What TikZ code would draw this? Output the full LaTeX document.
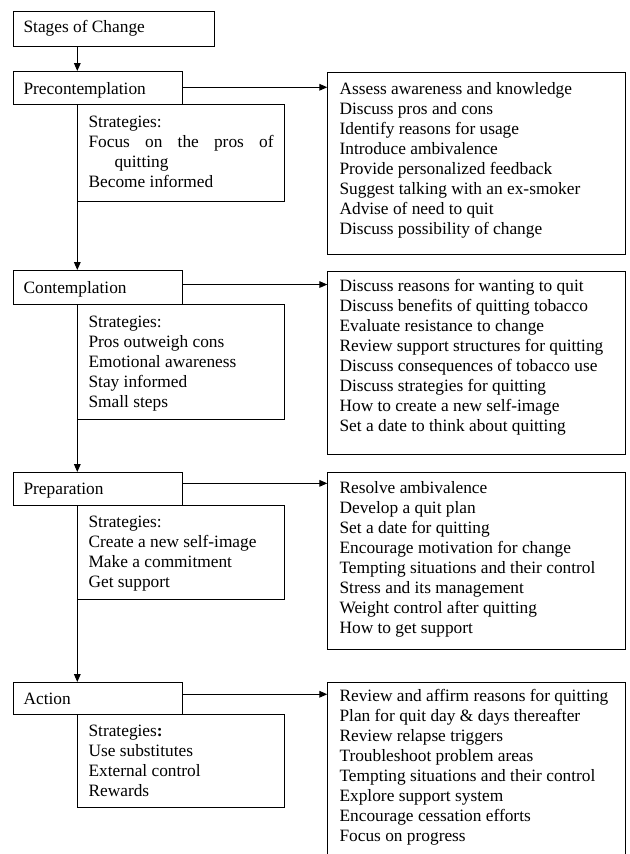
\documentclass[tikz,border=0pt]{standalone}
\usepackage{fontspec}
\setmainfont{Liberation Serif}
\usetikzlibrary{arrows.meta,calc}
\tikzset{
  box/.style={draw, line width=0.8pt, inner sep=0pt, anchor=north west, rectangle},
  stagebox/.style={box, minimum width=127.2pt},
  stratbox/.style={box, minimum width=155.25pt},
  listbox/.style={box, minimum width=222.9pt},
  txt/.style={anchor=north west, inner sep=0pt, align=left, font=\fontsize{13}{15}\selectfont},
  arr/.style={line width=0.8pt, -{Triangle[length=6pt,width=5pt]}},
}
\begin{document}
\begin{tikzpicture}[x=0.75pt,y=-0.75pt]
\useasboundingbox (0,0) rectangle (629,854);
\fill[white] (0,0) rectangle (629,854);
\clip (0,0) rectangle (629,854);

% title
\node[box, minimum width=151pt, minimum height=26.25pt] (title) at (12.7,10.7) {};
\node[txt] (titlet) at (23.3,18.5) {\strut Stages of Change};

% stage 1
\node[stagebox, minimum height=24.5pt] (pre) at (12.7,71) {};
\node[txt] (pret) at (23.3,80) {\strut Precontemplation};
\node[stratbox, minimum height=73pt] (s1) at (77.3,103.7) {};
\node[txt] (s1t) at (88.3,113.7) {\strut Strategies:\\\makebox[138.75pt][s]{Focus on the pros of}\\\hspace*{19.5pt}quitting\\Become informed};
\node[listbox, minimum height=136.5pt] (r1) at (327.3,72) {};
\node[txt] (r1t) at (339.3,80.5) {\strut Assess awareness and knowledge\\Discuss pros and cons\\Identify reasons for usage\\Introduce ambivalence\\Provide personalized feedback\\Suggest talking with an ex-smoker\\Advise of need to quit\\Discuss possibility of change};

% stage 2
\node[stagebox, minimum height=25.5pt] (cont) at (12.7,270) {};
\node[txt] (contt) at (23.3,279.3) {\strut Contemplation};
\node[stratbox, minimum height=86.25pt] (s2) at (77.3,304) {};
\node[txt] (s2t) at (88.3,313.7) {\strut Strategies:\\Pros outweigh cons\\Emotional awareness\\Stay informed\\Small steps};
\node[listbox, minimum height=137.5pt] (r2) at (327.3,270.7) {};
\node[txt] (r2t) at (339.3,277.7) {\strut Discuss reasons for wanting to quit\\Discuss benefits of quitting tobacco\\Evaluate resistance to change\\Review support structures for quitting\\Discuss consequences of tobacco use\\Discuss strategies for quitting\\How to create a new self-image\\Set a date to think about quitting};

% stage 3
\node[stagebox, minimum height=24.75pt] (prep) at (12.7,472) {};
\node[txt] (prept) at (23.3,480) {\strut Preparation};
\node[stratbox, minimum height=70.5pt] (s3) at (77.3,505) {};
\node[txt] (s3t) at (88.3,513.3) {\strut Strategies:\\Create a new self-image\\Make a commitment\\Get support};
\node[listbox, minimum height=132.5pt] (r3) at (327.3,472.3) {};
\node[txt] (r3t) at (339.3,479.3) {\strut Resolve ambivalence\\Develop a quit plan\\Set a date for quitting\\Encourage motivation for change\\Tempting situations and their control\\Stress and its management\\Weight control after quitting\\How to get support};

% stage 4
\node[stagebox, minimum height=24.2pt] (act) at (12.7,682) {};
\node[txt] (actt) at (23.3,690) {\strut Action};
\node[stratbox, minimum height=69.5pt] (s4) at (77.3,714.3) {};
\node[txt] (s4t) at (88.3,722.7) {\strut Strategies\textbf{:}\\Use substitutes\\External control\\Rewards};
\node[listbox, minimum height=148.5pt] (r4) at (327.3,682) {};
\node[txt] (r4t) at (339.3,687) {\strut Review and affirm reasons for quitting\\Plan for quit day \& days thereafter\\Review relapse triggers\\Troubleshoot problem areas\\Tempting situations and their control\\Explore support system\\Encourage cessation efforts\\Focus on progress};

% vertical connectors
\draw[arr] (title.south -| s1.west) -- (pre.north -| s1.west);
\draw[arr] (s1.south west) -- (s1.south west |- cont.north);
\draw[arr] (s2.south west) -- (s2.south west |- prep.north);
\draw[arr] (s3.south west) -- (s3.south west |- act.north);

% horizontal connectors
\coordinate (a1) at ([yshift=-12.2pt]pre.north east);
\draw[arr] (a1) -- (a1 -| r1.west);
\coordinate (a2) at ([yshift=-10.9pt]cont.north east);
\draw[arr] (a2) -- (a2 -| r2.west);
\coordinate (a3) at ([yshift=-8.5pt]prep.north east);
\draw[arr] (a3) -- (a3 -| r3.west);
\coordinate (a4) at ([yshift=-9.2pt]act.north east);
\draw[arr] (a4) -- (a4 -| r4.west);
\end{tikzpicture}
\end{document}
